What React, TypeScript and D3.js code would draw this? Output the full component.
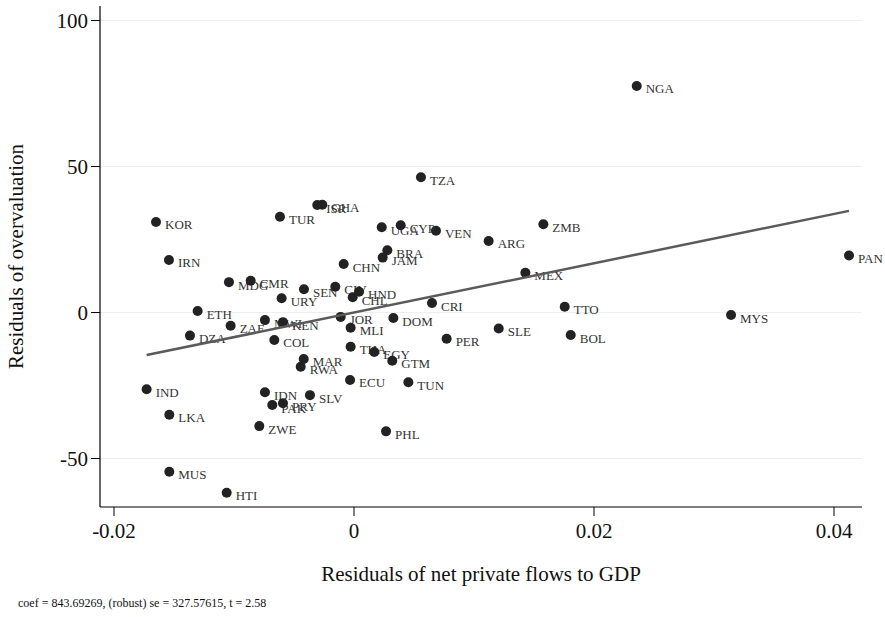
import React from "react";
import * as d3 from "d3";

// country codes and residual values
const codes = ["NGA","TZA","VEN","ARG","ZMB","MEX","CRI","TTO","MYS","PAN","PER","SLE","BOL",
  "KOR","IRN","TUR","ISR","GHA","UGA","CYP","BRA","JAM","CHN","MDG","CMR","SEN","CIV","HND","CHL","URY",
  "ETH","ZAF","MWI","KEN","JOR","DOM","MLI","DZA","COL","THA","EGY",
  "MAR","RWA","GTM","ECU","TUN","IND","IDN","SLV","PAK","PRY","LKA","ZWE","PHL","MUS","HTI"];
const flows = [0.02356,0.00558,0.00683,0.01122,0.01578,0.01428,0.0065,0.01756,0.03142,0.04125,0.00772,0.01206,0.01806,
  -0.0165,-0.01542,-0.00617,-0.00306,-0.00264,0.00231,0.00389,0.00278,0.00239,-0.00086,-0.01042,-0.00861,-0.00417,-0.00156,0.00042,-0.00011,-0.00603,
  -0.01303,-0.01028,-0.00742,-0.00592,-0.00111,0.00328,-0.00028,-0.01367,-0.00664,-0.00028,0.00169,
  -0.00419,-0.00444,0.00319,-0.00033,0.00453,-0.01728,-0.00742,-0.00367,-0.00681,-0.00592,-0.01539,-0.00789,0.00267,-0.01539,-0.01061];
const overval = [77.6,46.3,28.0,24.5,30.2,13.6,3.25,2.0,-0.86,19.5,-8.97,-5.5,-7.7,
  31.0,18.0,32.8,36.8,36.9,29.2,29.9,21.3,18.8,16.6,10.4,10.9,8.0,8.8,7.1,5.2,4.9,
  0.5,-4.5,-2.6,-3.3,-1.5,-1.9,-5.2,-7.9,-9.4,-11.7,-13.5,
  -15.9,-18.6,-16.5,-23.1,-23.9,-26.3,-27.3,-28.3,-31.7,-31.1,-35.0,-38.9,-40.7,-54.5,-61.7];

const xTicks = [-0.02, 0, 0.02, 0.04];
const xTickLabels = ["-0.02", "0", "0.02", "0.04"];
const yTicks = [-50, 0, 50, 100];
const coef = 843.69269;
const note = "coef = 843.69269, (robust) se = 327.57615, t = 2.58";

export default function App() {
  const W = 885, H = 617;
  const left = 100, right = 862, top = 6, bottom = 507;
  const x = d3.scaleLinear().domain([-0.021167, 0.042333]).range([left, right]);
  const y = d3.scaleLinear().domain([-66.6, 104.97]).range([bottom, top]);
  const font = "'Liberation Serif', 'Times New Roman', serif";
  const pts = codes.map((c, i) => ({ c, x: flows[i], y: overval[i] }));
  const [xmin, xmax] = d3.extent(flows) as [number, number];
  const fit = d3.line<number>().x(d => x(d)).y(d => y(coef * d));

  return (
    <svg width={W} height={H} style={{ position: "absolute", left: 0, top: 0, background: "#fff" }} fontFamily={font}>
      {yTicks.map(t => (
        <line key={"g" + t} x1={left} x2={right} y1={y(t)} y2={y(t)} stroke="#eeeeee" strokeWidth={1} />
      ))}
      <line x1={left} x2={left} y1={top} y2={bottom} stroke="#000" strokeWidth={1.2} />
      <line x1={left} x2={right} y1={bottom} y2={bottom} stroke="#000" strokeWidth={1.2} />
      {yTicks.map(t => (
        <g key={"y" + t}>
          <line x1={left - 9} x2={left} y1={y(t)} y2={y(t)} stroke="#000" strokeWidth={1} />
          <text x={left - 12} y={y(t)} dy="0.35em" textAnchor="end" fontSize={21} fill="#111">{t}</text>
        </g>
      ))}
      {xTicks.map((t, i) => (
        <g key={"x" + t}>
          <line x1={x(t)} x2={x(t)} y1={bottom} y2={bottom + 9} stroke="#000" strokeWidth={1} />
          <text x={x(t)} y={bottom + 31} textAnchor="middle" fontSize={21} fill="#111">{xTickLabels[i]}</text>
        </g>
      ))}
      <text transform={`translate(23,${(top + bottom) / 2}) rotate(-90)`} textAnchor="middle" fontSize={21} fill="#111">
        Residuals of overvaluation
      </text>
      <text x={(left + right) / 2} y={581} textAnchor="middle" fontSize={21} fill="#111">
        Residuals of net private flows to GDP
      </text>
      <text x={18} y={607} fontSize={12} fill="#111">{note}</text>
      {pts.map(p => (
        <g key={p.c}>
          <circle cx={x(p.x)} cy={y(p.y)} r={5} fill="#222" />
          <text x={x(p.x) + 9} y={y(p.y) + 7.5} fontSize={13} fill="#333">{p.c}</text>
        </g>
      ))}
      <path d={fit([xmin, xmax]) || ""} fill="none" stroke="#5a5a5a" strokeWidth={2.5} />
    </svg>
  );
}
